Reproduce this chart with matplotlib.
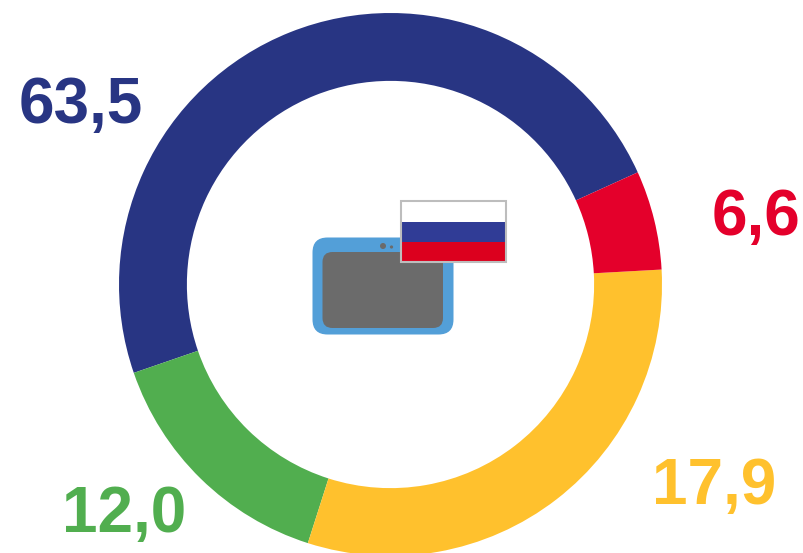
import matplotlib
matplotlib.use("Agg")
import matplotlib.pyplot as plt
from matplotlib.patches import Circle, FancyBboxPatch, Rectangle

# printed labels; the arcs in the picture are not drawn to these numbers
labels = ["63,5", "12,0", "17,9", "6,6"]
# arc shares, counter-clockwise from the blue/red boundary
arc_shares = [48.5, 14.8, 30.8, 5.9]
colors = ["#283583", "#51AE4F", "#FFC12D", "#E4002B"]
label_pos = [(80.5, 106), (124.5, 515), (714, 487), (756, 218)]

W, H = 804, 553
fig = plt.figure(figsize=(W / 100, H / 100), dpi=100)
ax = fig.add_axes([0, 0, 1, 1])
ax.set_xlim(0, W)
ax.set_ylim(H, 0)
ax.axis("off")

# donut
cx, cy, r = 390.5, 284.5, 271.5
pie_ax = fig.add_axes([(cx - r) / W, 1 - (cy + r) / H, 2 * r / W, 2 * r / H])
pie_ax.pie(arc_shares, colors=colors, startangle=24.4, counterclock=True, radius=1,
           wedgeprops={"width": 0.25, "linewidth": 0})
pie_ax.set_xlim(-1, 1)
pie_ax.set_ylim(-1, 1)
pie_ax.set_zorder(-1)

# tablet icon
ax.add_patch(FancyBboxPatch((312.5, 237.5), 141, 97, boxstyle="round,pad=0,rounding_size=15",
                            fc="#539FD8", ec="none", zorder=3))
ax.add_patch(FancyBboxPatch((322.5, 252), 120.5, 76, boxstyle="round,pad=0,rounding_size=10",
                            fc="#6B6B6B", ec="none", zorder=4))
ax.add_patch(Circle((383, 246), 3, fc="#6B6B6B", ec="none", zorder=4))
ax.add_patch(Circle((391.5, 247), 1.6, fc="#6B6B6B", ec="none", zorder=4))

# flag
ax.add_patch(Rectangle((402, 201), 104, 21.5, fc="#FFFFFF", ec="none", zorder=5))
ax.add_patch(Rectangle((402, 222.3), 104, 20, fc="#303C96", ec="none", zorder=5))
ax.add_patch(Rectangle((402, 242.3), 104, 20, fc="#DC001E", ec="none", zorder=5))
ax.add_patch(Rectangle((401.3, 200.7), 105, 61.6, fc="none", ec="#BDBDBD", lw=1.5, zorder=6))

for label, color, (x, y) in zip(labels, colors, label_pos):
    ax.text(x, y, label, color=color, ha="center", va="center",
            family="Liberation Sans", weight="bold", fontsize=46)

fig.savefig("out.png", dpi=100)
